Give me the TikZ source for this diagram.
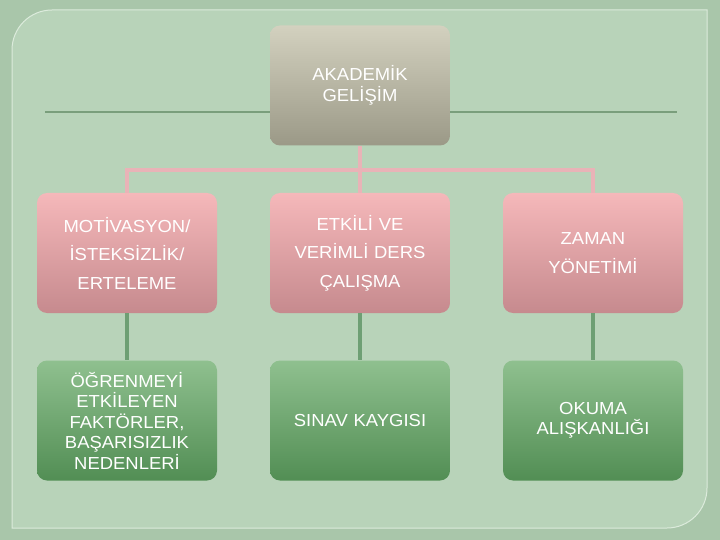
\documentclass[tikz,border=0pt]{standalone}
\usepackage{fontspec}
\setmainfont[FakeStretch=1.06]{Liberation Sans}
\usepackage{xcolor}
\definecolor{outerbg}{HTML}{A9C6AA}
\definecolor{panelbg}{HTML}{B8D3B9}
\definecolor{panelrim}{HTML}{DCEBDC}
\definecolor{ruleline}{HTML}{7A9E7C}
\definecolor{greytop}{HTML}{D3D1BF}
\definecolor{greybot}{HTML}{9B9987}
\definecolor{pinktop}{HTML}{F5B8BA}
\definecolor{pinkbot}{HTML}{C68A8E}
\definecolor{greentop}{HTML}{8FC08F}
\definecolor{greenbot}{HTML}{528E54}
\definecolor{pinkwire}{HTML}{E9B3B7}
\definecolor{greenwire}{HTML}{6E9F74}

\begin{document}
\begin{tikzpicture}[x=1pt,y=-1pt,
 box/.style={rectangle,rounded corners=10pt,minimum width=180pt,minimum height=120pt,
  text width=176pt,align=center,text=white,inner sep=0pt},
 headbox/.style={box,top color=greytop,bottom color=greybot,font=\fontsize{17.4}{21}\selectfont},
 pinkbox/.style={box,top color=pinktop,bottom color=pinkbot,font=\fontsize{17.4}{28.5}\selectfont},
 greenbox/.style={box,top color=greentop,bottom color=greenbot,font=\fontsize{17.4}{20.5}\selectfont},
 pinkwire/.style={draw=pinkwire,line width=4pt},
 greenwire/.style={draw=greenwire,line width=3.5pt}]
 \useasboundingbox (0,0) rectangle (720,540);
 \fill[outerbg] (0,0) rectangle (720,540);
 \filldraw[fill=panelbg,draw=panelrim,line width=1pt]
 (12,528) -- (12,50) arc[start angle=180,end angle=270,radius=40]
 -- (707,10) -- (707,488) arc[start angle=0,end angle=90,radius=40]
 -- cycle;
 \draw[ruleline,line width=1.3pt] (45,112) -- (677,112);

 \node[headbox] (gelisim) at (360,85.5) {AKADEM\.IK\\GEL\.I\c{S}\.IM};

 \node[pinkbox] (motivasyon) at (127,253) {MOT\.IVASYON/\\\.ISTEKS\.IZL\.IK/\\ERTELEME};
 \node[pinkbox] (calisma) at (360,253) {ETK\.IL\.I VE\\VER\.IML\.I DERS\\\c{C}ALI\c{S}MA};
 \node[pinkbox] (zaman) at (593,253) {ZAMAN\\Y\"ONET\.IM\.I};

 \node[greenbox] (faktor) at (127,420.5) {\"O\u{G}RENMEY\.I\\ETK\.ILEYEN\\FAKT\"ORLER,\\BA\c{S}ARISIZLIK\\NEDENLER\.I};
 \node[greenbox] (sinav) at (360,420.5) {SINAV KAYGISI};
 \node[greenbox] (okuma) at (593,420.5) {OKUMA\\ALI\c{S}KANLI\u{G}I};

 \coordinate (bar) at (360,170);
 \draw[pinkwire] (gelisim.south) -- (calisma.north);
 \draw[pinkwire] (motivasyon.north) -- (motivasyon.north |- bar) -- (zaman.north |- bar) -- (zaman.north);

 \draw[greenwire] (motivasyon.south) -- (faktor.north);
 \draw[greenwire] (calisma.south) -- (sinav.north);
 \draw[greenwire] (zaman.south) -- (okuma.north);
\end{tikzpicture}
\end{document}
